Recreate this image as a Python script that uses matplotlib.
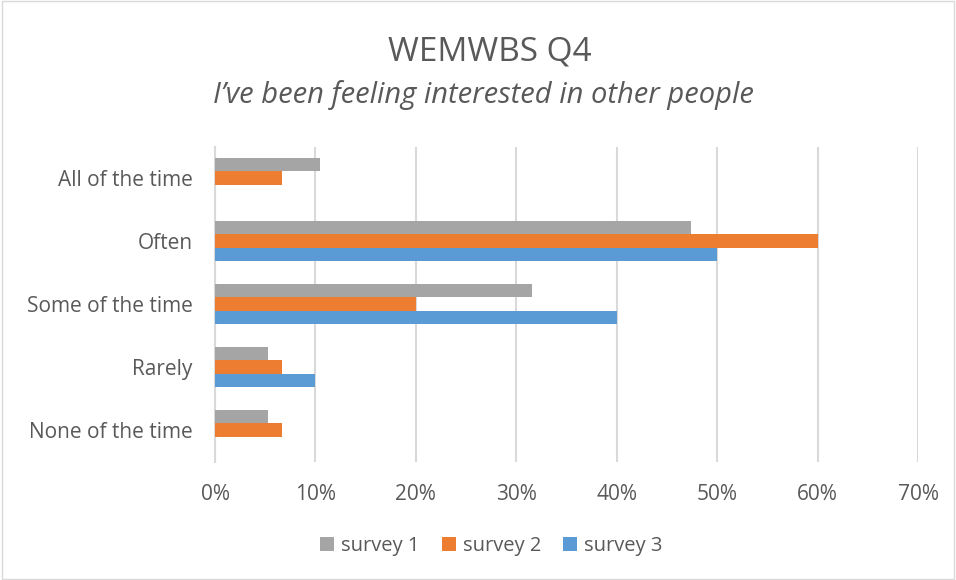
import numpy as np
import matplotlib.pyplot as plt
from matplotlib.patches import Rectangle

categories = ["All of the time", "Often", "Some of the time", "Rarely", "None of the time"]
series_names = ["survey 1", "survey 2", "survey 3"]
survey1 = [10.5, 47.4, 31.6, 5.3, 5.3]
survey2 = [6.7, 60.0, 20.0, 6.7, 6.7]
survey3 = [0.0, 50.0, 40.0, 10.0, 0.0]
colors = ["#A5A5A5", "#ED7D31", "#5B9BD5"]
xticks = [0, 10, 20, 30, 40, 50, 60, 70]

plt.rcParams['font.family'] = ['Open Sans', 'DejaVu Sans']
txt = "#595959"

fig = plt.figure(figsize=(9.56, 5.8), dpi=100)
fig.patches.append(Rectangle((0.002, 0.002), 0.996, 0.996, transform=fig.transFigure,
                             fill=False, edgecolor="#D9D9D9", linewidth=1))
ax = fig.add_axes([0.2249, 0.2043, 0.7354, 0.5431])

y = np.arange(len(categories))
h = 0.207
for i, vals in enumerate([survey1, survey2, survey3]):
    ax.barh(y + (i - 1) * h, vals, height=h, color=colors[i], label=series_names[i], zorder=3)

ax.set_ylim(len(categories) - 0.5, -0.5)
ax.set_xlim(0, 70)
ax.set_yticks(y)
ax.set_yticklabels(categories, fontsize=15, color=txt)
ax.set_xticks(xticks)
ax.set_xticklabels([f"{t}%" for t in xticks], fontsize=15, color=txt)
ax.tick_params(axis="both", length=0)
ax.tick_params(axis="y", pad=16)
ax.tick_params(axis="x", pad=16)
ax.grid(axis="x", color="#D9D9D9", linewidth=1.5, zorder=0)
for s in ["top", "right", "bottom"]:
    ax.spines[s].set_visible(False)
ax.spines["left"].set_color("#D9D9D9")
ax.spines["left"].set_linewidth(1.5)

fig.text(0.512, 0.91, "WEMWBS Q4", ha="center", va="center", fontsize=24, color=txt)
fig.text(0.506, 0.836, "I\u2019ve been feeling interested in other people", ha="center", va="center",
         fontsize=21, style="italic", color=txt)

fig.legend(loc="center", bbox_to_anchor=(0.514, 0.058), ncol=3, frameon=False,
           fontsize=14.5, labelcolor=txt, handlelength=0.7, handleheight=0.7,
           handletextpad=0.35, columnspacing=1.1)

fig.savefig("out.png", dpi=100)
